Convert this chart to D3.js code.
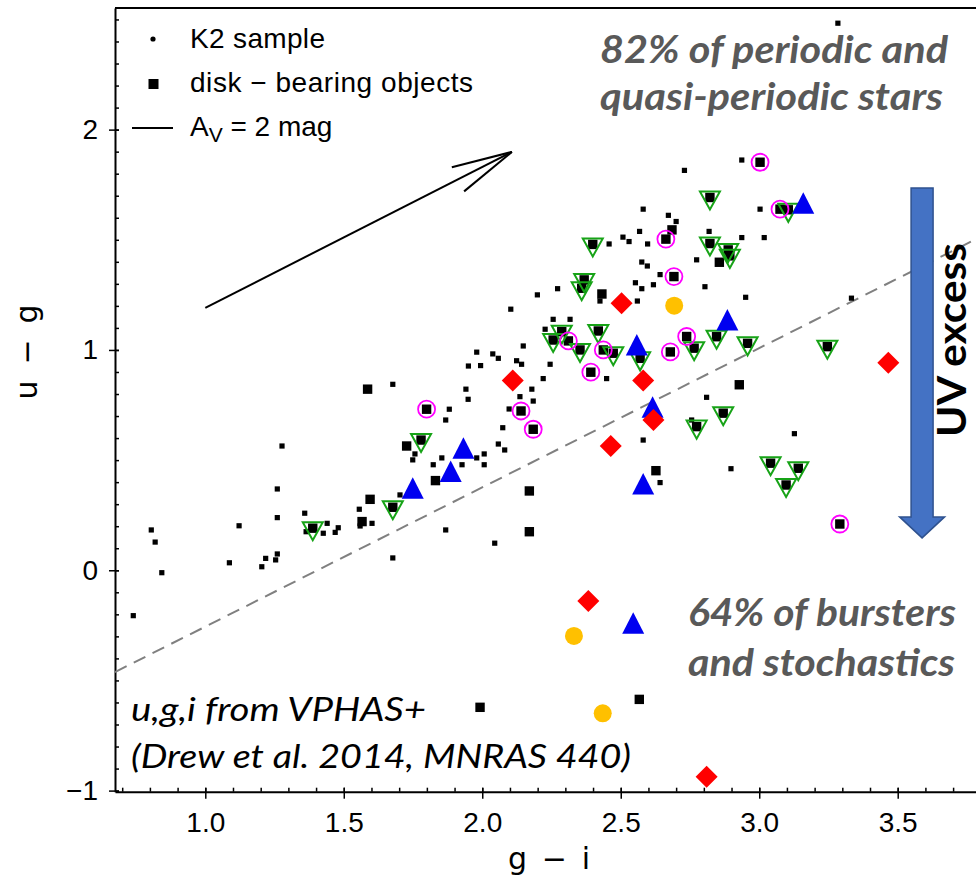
<!DOCTYPE html>
<html>
<head>
<meta charset="utf-8">
<script src="https://d3js.org/d3.v7.min.js"></script>
<style>
body { margin: 0; background: #fff; }
svg { display: block; }
text { font-family: "Liberation Sans", Arial, sans-serif; fill: #000; }
.note { font-family: Lato, "Open Sans", sans-serif; }
.axis path, .axis line { stroke: #000; }
</style>
</head>
<body>
<div id="plot"></div>
<script>
var width = 976, height = 887;

// axis ranges and ticks
var xDomain = [0.674, 3.8];
var yDomain = [-1.005, 2.552];
var xTicks = [1.0, 1.5, 2.0, 2.5, 3.0, 3.5];
var yTicks = [-1, 0, 1, 2];

// K2 sample (small squares), [g-i, u-g]
var k2Sample = [
  [2.73,1.815],[2.581,1.639],[2.672,1.611],[2.700,1.583],[2.568,1.538],[2.819,1.538],[2.458,1.481],
  [2.508,1.512],[2.530,1.492],[2.597,1.481],[2.576,1.399],[2.596,1.381],[2.774,1.409],[2.642,1.342],
  [2.553,1.305],[2.576,1.278],[2.618,1.296],[2.804,1.287],[2.560,1.222],[2.199,1.250],[2.272,1.278],
  [2.103,1.185],[2.256,1.139],[2.317,1.139],[2.227,1.094],[2.937,1.862],[3.003,1.639],[2.937,1.510],
  [3.018,1.510],[3.284,2.483],[3.333,1.235],[2.148,1.018],[2.038,0.982],[2.058,0.962],[2.124,0.951],
  [2.142,0.935],[2.245,0.935],[2.449,0.870],[2.220,0.870],[2.179,0.822],[2.136,0.788],[2.184,0.768],
  [2.810,0.785],[2.097,0.732],[2.074,0.647],[2.058,0.573],[2.081,0.546],[2.756,0.682],[2.581,0.591],
  [2.642,0.398],[2.045,0.123],[1.980,0.990],[1.950,0.927],[1.994,0.929],[1.677,0.844],[1.941,0.822],
  [1.949,0.776],[1.881,0.731],[1.868,0.682],[1.277,0.564],[1.757,0.528],[1.749,0.501],[1.854,0.510],
  [1.823,0.479],[1.927,0.479],[1.980,0.510],[2.007,0.528],[2.007,0.479],[1.260,0.369],[1.703,0.342],
  [1.556,0.277],[1.359,0.259],[1.559,0.201],[1.602,0.213],[1.260,0.239],[1.440,0.213],[1.426,0.168],
  [1.469,0.172],[1.480,0.193],[1.364,0.175],[1.868,0.183],[1.677,0.056],[1.260,0.074],[1.122,0.202],
  [0.805,0.183],[0.819,0.128],[0.843,-0.011],[1.087,0.034],[1.204,0.016],[1.218,0.054],[1.254,0.047],
  [0.740,-0.206],[2.951,1.239],[3.127,0.620],[2.898,0.461],[2.425,1.222]
];

// disk-bearing objects without a variability class
var diskObjects = [
  [1.586,0.822],[1.727,0.564],[1.595,0.322],[1.566,0.221],[1.831,0.407],[2.627,0.452],[2.170,0.360],
  [2.170,0.175],[2.928,0.842],[2.856,1.398],[2.685,1.545],[2.432,1.254],[1.992,-0.622],[2.567,-0.586]
];

// periodic (green down triangles)
var periodic = [
  [2.822,1.692],[2.822,1.483],[2.399,1.479],[2.368,1.318],[2.359,1.280],[2.287,1.083],[2.419,1.086],
  [2.256,1.045],[2.353,1.000],[2.473,0.985],[2.570,0.962],[2.765,1.008],[2.846,1.060],[2.888,1.454],
  [2.894,1.427],[3.105,1.636],[2.958,1.030],[3.246,1.015],[2.870,0.713],[3.041,0.486],[3.141,0.463],
  [3.097,0.387],[2.774,0.652],[1.779,0.591],[1.677,0.286],[1.388,0.191]
];

// quasi-periodic (magenta open circles)
var quasiPeriodic = [
  [3.003,1.852],[3.075,1.639],[2.663,1.503],[2.692,1.333],[2.311,1.041],[2.437,1.000],[2.679,0.991],
  [2.738,1.061],[2.392,0.899],[2.140,0.723],[2.184,0.640],[1.799,0.731],[3.291,0.210]
];

// bursters (blue triangles)
var bursters = [
  [3.159,1.666],[2.558,1.023],[2.615,0.740],[2.581,0.392],[1.932,0.554],[1.886,0.448],[1.749,0.372],
  [2.885,1.136],[2.545,-0.241]
];

// stochastic (red diamonds)
var stochastic = [
  [2.503,1.212],[2.110,0.861],[2.581,0.861],[2.618,0.682],[2.464,0.564],[3.466,0.942],[2.383,-0.139],
  [2.810,-0.937]
];

// other classes (orange dots)
var others = [[2.693,1.201],[2.331,-0.298],[2.435,-0.649]];

// dashed separation line and A_V = 2 mag reddening vector
var uvLine = [[0.674,-0.462],[3.8,1.514]];
var reddening = [[1.0,1.191],[2.107,1.899]];
// UV excess arrow: [x, yTop, yTip]
var uvArrow = [3.588, 1.735, 0.147];

var legendLabels = ["K2 sample", "disk \u2212 bearing objects"];
var legendWidths = [135, 283];

var svg = d3.select("#plot").append("svg")
  .attr("width", width).attr("height", height);

var x = d3.scaleLinear().domain(xDomain).range([115, 980.8]);
var y = d3.scaleLinear().domain(yDomain).range([791.7, 8]);

// frame (top)
svg.append("line").attr("x1", 115).attr("x2", width).attr("y1", 8).attr("y2", 8)
  .style("stroke", "#000").style("stroke-width", 2);

// minor ticks, inward
svg.append("g").attr("class", "axis").attr("transform", "translate(0,791.7)")
  .call(d3.axisBottom(x).tickValues(d3.range(7, 38).map(function (d) { return d / 10; }))
    .tickSize(-4).tickSizeOuter(0).tickFormat(""))
  .call(function (g) { g.select(".domain").remove(); g.selectAll("line").style("stroke-width", 1.5); });
svg.append("g").attr("class", "axis").attr("transform", "translate(115,0)")
  .call(d3.axisLeft(y).tickValues(d3.range(-10, 26).map(function (d) { return d / 10; }))
    .tickSize(-4).tickSizeOuter(0).tickFormat(""))
  .call(function (g) { g.select(".domain").remove(); g.selectAll("line").style("stroke-width", 1.5); });

// major ticks
var xAxis = svg.append("g").attr("class", "axis").attr("transform", "translate(0,791.7)")
  .call(d3.axisBottom(x).tickValues(xTicks).tickFormat(d3.format(".1f"))
    .tickSizeInner(7).tickSizeOuter(0).tickPadding(13));
xAxis.select(".domain").style("stroke-width", 2);
xAxis.selectAll("line").attr("y1", -4).style("stroke-width", 1.5);
xAxis.selectAll("text").style("font-size", "28px").style("font-family", "'Liberation Sans', Arial, sans-serif");

var yAxis = svg.append("g").attr("class", "axis").attr("transform", "translate(115,0)")
  .call(d3.axisLeft(y).tickValues(yTicks).tickFormat(d3.format("d"))
    .tickSizeInner(6).tickSizeOuter(0).tickPadding(11));
yAxis.select(".domain").style("stroke-width", 2);
yAxis.selectAll("line").attr("x1", 4).style("stroke-width", 1.5);
yAxis.selectAll("text").style("font-size", "28px").style("font-family", "'Liberation Sans', Arial, sans-serif");

// axis titles
svg.append("text").attr("x", 549).attr("y", 869).attr("text-anchor", "middle")
  .attr("textLength", 82).attr("lengthAdjust", "spacing")
  .style("font-size", "30px").style("font-family", "'DejaVu Sans', sans-serif").text("g \u2212 i");
svg.append("text").attr("transform", "translate(37,352) rotate(-90)").attr("text-anchor", "middle")
  .attr("textLength", 95).attr("lengthAdjust", "spacing")
  .style("font-size", "30px").style("font-family", "'DejaVu Sans', sans-serif").text("u \u2212 g");

// dashed line
svg.append("line")
  .attr("x1", x(uvLine[0][0])).attr("y1", y(uvLine[0][1]))
  .attr("x2", x(uvLine[1][0])).attr("y2", y(uvLine[1][1]))
  .style("stroke", "#808080").style("stroke-width", 2).style("stroke-dasharray", "13,8");

// reddening vector
var rx0 = x(reddening[0][0]), ry0 = y(reddening[0][1]);
var rx1 = x(reddening[1][0]), ry1 = y(reddening[1][1]);
var ang = Math.atan2(ry0 - ry1, rx0 - rx1);
var arrow = svg.append("g").style("stroke", "#000").style("stroke-width", 2).style("fill", "none");
arrow.append("line").attr("x1", rx0).attr("y1", ry0).attr("x2", rx1).attr("y2", ry1);
[-0.22, 0.22].forEach(function (da) {
  arrow.append("line").attr("x1", rx1).attr("y1", ry1)
    .attr("x2", rx1 + 62 * Math.cos(ang + da)).attr("y2", ry1 + 62 * Math.sin(ang + da));
});

// K2 sample
svg.append("g").selectAll("rect").data(k2Sample).enter().append("rect")
  .attr("x", function (d) { return x(d[0]) - 2.6; })
  .attr("y", function (d) { return y(d[1]) - 2.6; })
  .attr("width", 5.2).attr("height", 5.2).style("fill", "#000");

// disk-bearing squares (all classified stars plus unclassified)
var diskAll = diskObjects.concat(periodic, quasiPeriodic);
svg.append("g").selectAll("rect").data(diskAll).enter().append("rect")
  .attr("x", function (d) { return x(d[0]) - 4.7; })
  .attr("y", function (d) { return y(d[1]) - 4.7; })
  .attr("width", 9.4).attr("height", 9.4).style("fill", "#000");

// periodic: green open down-triangles
svg.append("g").selectAll("path").data(periodic).enter().append("path")
  .attr("transform", function (d) { return "translate(" + x(d[0]) + "," + y(d[1]) + ")"; })
  .attr("d", "M-10,-6L10,-6L0,12Z")
  .style("fill", "none").style("stroke", "#17a317").style("stroke-width", 2);

// quasi-periodic: magenta open circles
svg.append("g").selectAll("circle").data(quasiPeriodic).enter().append("circle")
  .attr("cx", function (d) { return x(d[0]); })
  .attr("cy", function (d) { return y(d[1]); })
  .attr("r", 8.5)
  .style("fill", "none").style("stroke", "#ff00ff").style("stroke-width", 1.8);

// bursters: blue triangles
svg.append("g").selectAll("path").data(bursters).enter().append("path")
  .attr("transform", function (d) { return "translate(" + x(d[0]) + "," + y(d[1]) + ")"; })
  .attr("d", "M0,-11L11,10.5L-11,10.5Z")
  .style("fill", "#0000f0");

// stochastic: red diamonds
svg.append("g").selectAll("path").data(stochastic).enter().append("path")
  .attr("transform", function (d) { return "translate(" + x(d[0]) + "," + y(d[1]) + ")"; })
  .attr("d", "M0,-11L11,0L0,11L-11,0Z")
  .style("fill", "#ff0000");

// others: orange dots
svg.append("g").selectAll("circle").data(others).enter().append("circle")
  .attr("cx", function (d) { return x(d[0]); })
  .attr("cy", function (d) { return y(d[1]); })
  .attr("r", 9).style("fill", "#ffc000");

// legend
var legend = svg.append("g");
legend.append("circle").attr("cx", 153).attr("cy", 39).attr("r", 2.6).style("fill", "#000");
legend.append("rect").attr("x", 148.5).attr("y", 79).attr("width", 10).attr("height", 10).style("fill", "#000");
legend.append("line").attr("x1", 132).attr("x2", 173).attr("y1", 128).attr("y2", 128)
  .style("stroke", "#000").style("stroke-width", 2);
legend.selectAll("text.lab").data(legendLabels).enter().append("text")
  .attr("class", "lab").attr("x", 190).attr("y", function (d, i) { return 48 + i * 44; })
  .attr("textLength", function (d, i) { return legendWidths[i]; }).attr("lengthAdjust", "spacing")
  .style("font-size", "28px").text(function (d) { return d; });
var av = legend.append("text").attr("x", 190).attr("y", 136).style("font-size", "28px");
av.append("tspan").text("A");
av.append("tspan").attr("dy", 6).style("font-size", "21px").text("V");
av.append("tspan").attr("dy", -6).text(" = 2 mag");

// UV excess arrow
var ax = x(uvArrow[0]), ay0 = y(uvArrow[1]), ay1 = y(uvArrow[2]);
svg.append("path")
  .attr("d", "M" + (ax - 11) + "," + ay0 + "L" + (ax + 11) + "," + ay0 +
    "L" + (ax + 11) + "," + (ay1 - 21) + "L" + (ax + 22.5) + "," + (ay1 - 21) +
    "L" + ax + "," + ay1 + "L" + (ax - 22.5) + "," + (ay1 - 21) +
    "L" + (ax - 11) + "," + (ay1 - 21) + "Z")
  .style("fill", "#4472c4").style("stroke", "#2f528f").style("stroke-width", 1.5);
svg.append("text").attr("class", "note")
  .attr("transform", "translate(966,437) rotate(-90)")
  .attr("textLength", 194).attr("lengthAdjust", "spacingAndGlyphs")
  .style("font-size", "40px").style("font-weight", "bold")
  .style("font-family", "Lato, 'Open Sans', sans-serif")
  .text("UV excess");

// annotations
function note(txt, tx, ty, len, size, bold, color) {
  svg.append("text").attr("class", "note").attr("x", tx).attr("y", ty)
    .attr("textLength", len).attr("lengthAdjust", "spacingAndGlyphs")
    .style("font-size", size + "px").style("font-style", "italic")
    .style("font-weight", bold ? "bold" : "normal")
    .style("font-family", "Lato, 'Open Sans', sans-serif")
    .style("fill", color).text(txt);
}
note("82% of periodic and", 600, 63, 348, 38, true, "#595959");
note("quasi-periodic stars", 600, 110, 343, 38, true, "#595959");
note("64% of bursters", 688, 626, 268, 38, true, "#595959");
note("and stochastics", 688, 676, 267, 38, true, "#595959");
note("u,g,i from VPHAS+", 131, 721, 295, 33, false, "#000");
note("(Drew et al. 2014, MNRAS 440)", 131, 768, 500, 33, false, "#000");
</script>
</body>
</html>
